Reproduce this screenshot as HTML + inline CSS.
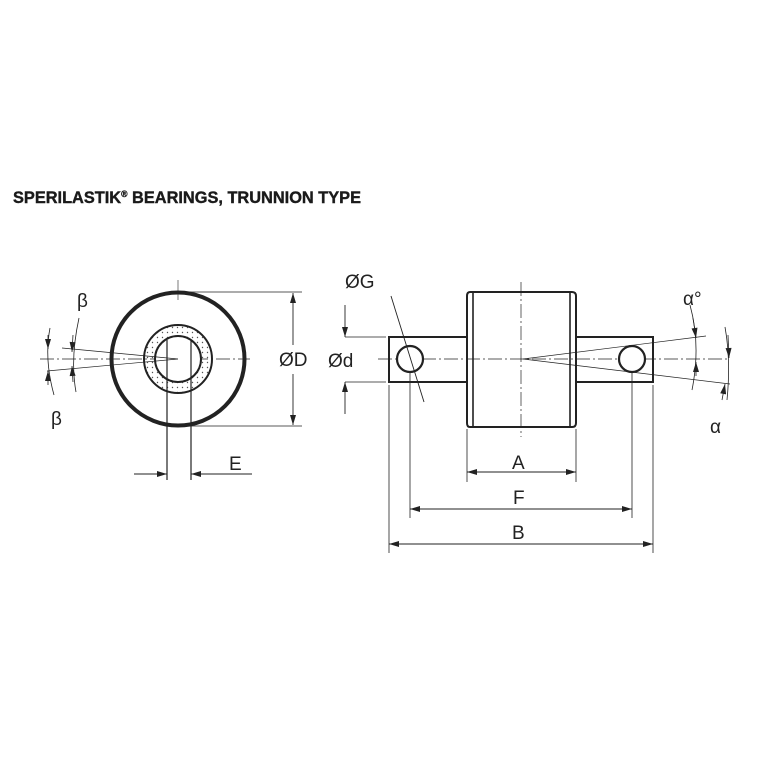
<!DOCTYPE html>
<html><head><style>body{margin:0;background:#fff}svg{display:block}</style></head><body>
<svg width="767" height="767" viewBox="0 0 767 767" xmlns="http://www.w3.org/2000/svg" font-family="Liberation Sans, sans-serif">
<defs>
<marker id="ar" viewBox="0 0 10 6" refX="10" refY="3" markerWidth="11" markerHeight="6" markerUnits="userSpaceOnUse" orient="auto-start-reverse"><path d="M0,0L10,3L0,6z" fill="#222"/></marker>
<pattern id="dots" width="5" height="5" patternUnits="userSpaceOnUse"><circle cx="2.5" cy="2.5" r="0.7" fill="#555"/></pattern>
</defs>
<text x="13" y="203" font-size="17" font-weight="bold" fill="#1a1a1a" stroke="#1a1a1a" stroke-width="0.4" textLength="348" lengthAdjust="spacingAndGlyphs">SPERILASTIK<tspan font-size="9" dy="-6">®</tspan><tspan dy="6"> BEARINGS, TRUNNION TYPE</tspan></text>

<!-- left view -->
<g stroke="#222" fill="none">
<line x1="40" y1="359" x2="250" y2="359" stroke-width="0.7" stroke-dasharray="14,3,2,3"/>
<line x1="178" y1="280" x2="178" y2="300" stroke-width="0.6"/>
<circle cx="178" cy="359" r="34" fill="url(#dots)" stroke-width="2"/>
<circle cx="178" cy="359" r="23" fill="#fff" stroke-width="2"/>
<circle cx="178" cy="359" r="66.5" stroke-width="4"/>
<line x1="167" y1="340" x2="167" y2="480" stroke-width="1.2"/>
<line x1="191" y1="340" x2="191" y2="480" stroke-width="1.2"/>
<line x1="178" y1="359" x2="62" y2="348" stroke-width="0.7"/>
<line x1="178" y1="359" x2="47" y2="371" stroke-width="0.7"/>
<path d="M50,328 Q44,359 54,395" stroke-width="0.8"/>
<path d="M79,318 Q70,359 76,392" stroke-width="0.8"/>
<line x1="178" y1="292" x2="302" y2="292" stroke-width="0.8"/>
<line x1="178" y1="426" x2="302" y2="426" stroke-width="0.8"/>
<line x1="293" y1="345" x2="293" y2="293" stroke-width="0.9" marker-end="url(#ar)"/>
<line x1="293" y1="374" x2="293" y2="425" stroke-width="0.9" marker-end="url(#ar)"/>
<line x1="134" y1="474" x2="167" y2="474" stroke-width="0.9" marker-end="url(#ar)"/>
<line x1="252" y1="474" x2="191" y2="474" stroke-width="0.9" marker-end="url(#ar)"/>
<line x1="48" y1="335" x2="48" y2="349" stroke-width="0.8" marker-end="url(#ar)"/>
<line x1="48" y1="385" x2="48" y2="371" stroke-width="0.8" marker-end="url(#ar)"/>
<line x1="73" y1="335" x2="72" y2="352" stroke-width="0.8" marker-end="url(#ar)"/>
<line x1="73" y1="382" x2="72" y2="366" stroke-width="0.8" marker-end="url(#ar)"/>
</g>
<g font-size="19" fill="#222">
<text x="77" y="307">β</text>
<text x="51" y="425">β</text>
<text x="279" y="366">ØD</text>
<text x="229" y="470">E</text>
</g>

<!-- right view -->
<g stroke="#222" fill="none">
<rect x="389" y="337" width="264" height="45" stroke-width="2" fill="#fff"/>
<path d="M470,292 H572 Q576,292 576,296 V423 Q576,427 572,427 H470 Q467,427 467,423 V296 Q467,292 470,292 Z" stroke-width="2" fill="#fff"/>
<line x1="473" y1="292" x2="473" y2="427" stroke-width="1.6"/>
<line x1="570" y1="292" x2="570" y2="427" stroke-width="1.6"/>
<line x1="378" y1="359" x2="730" y2="359" stroke-width="0.7" stroke-dasharray="14,3,2,3"/>
<line x1="521" y1="282" x2="521" y2="437" stroke-width="0.7" stroke-dasharray="14,3,2,3"/>
<circle cx="410" cy="359" r="13" stroke-width="2.2" fill="#fff"/>
<circle cx="632" cy="359" r="13" stroke-width="2.2" fill="#fff"/>
<line x1="523" y1="359" x2="706" y2="336" stroke-width="0.7"/>
<line x1="523" y1="359" x2="730" y2="384" stroke-width="0.7"/>
<path d="M690,305 Q701,345 692,390" stroke-width="0.8"/>
<path d="M725,327 Q731,360 727,400" stroke-width="0.8"/>
<line x1="693" y1="318" x2="696" y2="338" stroke-width="0.8" marker-end="url(#ar)"/>
<line x1="696" y1="376" x2="696" y2="362" stroke-width="0.8" marker-end="url(#ar)"/>
<line x1="728" y1="335" x2="729" y2="358" stroke-width="0.8" marker-end="url(#ar)"/>
<line x1="722" y1="400" x2="725" y2="384" stroke-width="0.8" marker-end="url(#ar)"/>
<line x1="345" y1="337" x2="386" y2="337" stroke-width="0.8"/>
<line x1="345" y1="382" x2="386" y2="382" stroke-width="0.8"/>
<line x1="345" y1="305" x2="345" y2="337" stroke-width="0.9" marker-end="url(#ar)"/>
<line x1="345" y1="414" x2="345" y2="382" stroke-width="0.9" marker-end="url(#ar)"/>
<line x1="391" y1="296" x2="424" y2="402" stroke-width="0.9"/>
<line x1="389" y1="385" x2="389" y2="553" stroke-width="0.8"/>
<line x1="653" y1="385" x2="653" y2="553" stroke-width="0.8"/>
<line x1="410" y1="372" x2="410" y2="518" stroke-width="0.8"/>
<line x1="632" y1="372" x2="632" y2="518" stroke-width="0.8"/>
<line x1="467" y1="429" x2="467" y2="482" stroke-width="0.8"/>
<line x1="576" y1="429" x2="576" y2="482" stroke-width="0.8"/>
<line x1="467" y1="472" x2="576" y2="472" stroke-width="0.9" marker-start="url(#ar)" marker-end="url(#ar)"/>
<line x1="410" y1="509" x2="632" y2="509" stroke-width="0.9" marker-start="url(#ar)" marker-end="url(#ar)"/>
<line x1="389" y1="544" x2="653" y2="544" stroke-width="0.9" marker-start="url(#ar)" marker-end="url(#ar)"/>
</g>
<g font-size="19" fill="#222">
<text x="345" y="288">ØG</text>
<text x="328" y="367">Ød</text>
<text x="512" y="469">A</text>
<text x="513" y="504">F</text>
<text x="512" y="539">B</text>
<text x="683" y="305">α°</text>
<text x="710" y="433">α</text>
</g>
</svg>
</body></html>
